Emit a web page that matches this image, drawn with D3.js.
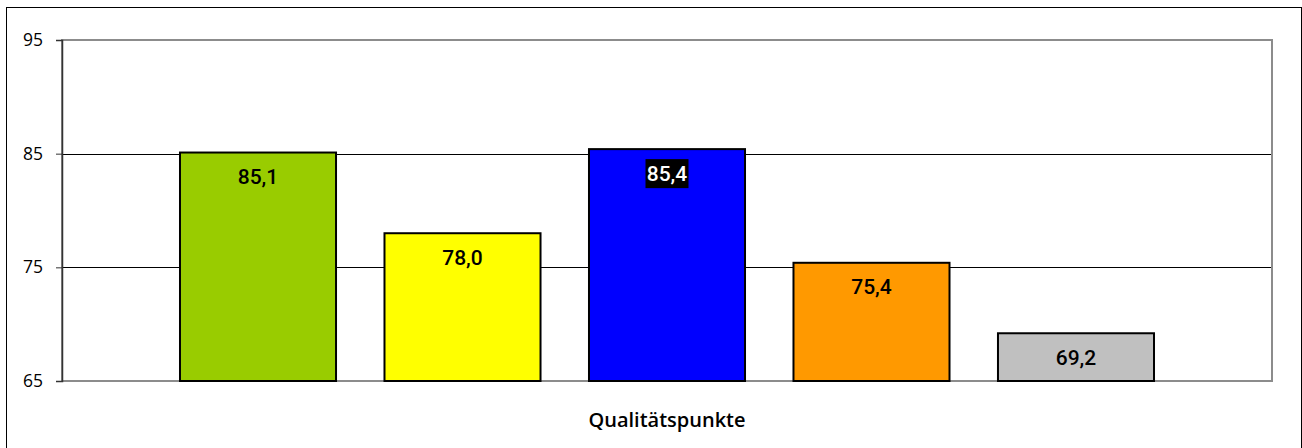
<!DOCTYPE html>
<html><head><meta charset="utf-8">
<script src="https://cdn.jsdelivr.net/npm/d3@7"></script>
<style>body{margin:0;background:#fff}svg{display:block}</style>
</head><body>
<svg id="c" width="1302" height="448"></svg>
<script>
const category = ["Qualitätspunkte"];
const series = ["S1","S2","S3","S4","S5"];
const values = [85.1, 78.0, 85.4, 75.4, 69.2];
const colors = ["#99CC00","#FFFF00","#0000FF","#FF9900","#C0C0C0"];
const yTicks = [65, 75, 85, 95];

const svg = d3.select("#c");
const L = 62, R = 1272, T = 40, B = 381;

svg.append("rect").attr("x",6.5).attr("y",7.5).attr("width",1295).attr("height",450)
  .attr("fill","#fff").attr("stroke","#000").attr("stroke-width",1);

const y = d3.scaleLinear().domain([65,95]).range([B,T]);
const x0 = d3.scaleBand().domain(category).range([L,R]).paddingInner(0).paddingOuter(0.0917);
const x1 = d3.scaleBand().domain(series).range([0,x0.bandwidth()]).paddingInner(0.237).paddingOuter(0.1185);

// gridlines
svg.append("g").selectAll("line").data(yTicks.slice(1,-1)).join("line")
  .attr("x1",L).attr("x2",R).attr("y1",d=>Math.round(y(d))+0.5).attr("y2",d=>Math.round(y(d))+0.5)
  .attr("stroke","#000").attr("stroke-width",1);

// plot border
svg.append("rect").attr("x",L).attr("y",T).attr("width",R-L).attr("height",B-T)
  .attr("fill","none").attr("stroke","#8c8c8c").attr("stroke-width",2);

// y axis
const ya = svg.append("g").attr("transform",`translate(${L},0)`)
  .call(d3.axisLeft(y).tickValues(yTicks).tickSize(6).tickPadding(13).tickFormat(d3.format("d")));
ya.select(".domain").attr("stroke","#333").attr("stroke-width",1.5);
ya.selectAll(".tick line").attr("stroke","#333");
ya.selectAll("text").attr("font-family","'Open Sans', sans-serif").attr("font-size",17.5).attr("fill","#000");

// bars
const g = svg.append("g").attr("transform",`translate(${x0(category[0])},0)`);
g.selectAll("rect").data(values).join("rect")
  .attr("x",(d,i)=>x1(series[i])).attr("width",x1.bandwidth())
  .attr("y",d=>y(d)).attr("height",d=>B-y(d))
  .attr("fill",(d,i)=>colors[i]).attr("stroke","#000").attr("stroke-width",2);

// labels
const fmt = d => d3.format(".1f")(d).replace(".",",");
values.forEach((d,i)=>{
  const cx = x1(series[i]) + x1.bandwidth()/2;
  const ty = y(d) + 31.5;
  if (i===2){
    g.append("rect").attr("x",cx-21.5).attr("y",y(d)+10).attr("width",43).attr("height",29).attr("fill","#000");
  }
  g.append("text").attr("x",cx).attr("y",ty).attr("text-anchor","middle")
    .attr("font-family","Roboto, sans-serif").attr("font-weight",500).attr("font-size",21)
    .attr("fill", i===2 ? "#fff" : "#000").text(fmt(d));
});

// x category label
svg.append("text").attr("x",x0(category[0])+x0.bandwidth()/2).attr("y",427).attr("text-anchor","middle")
  .attr("font-family","'Open Sans', sans-serif").attr("font-weight",600).attr("font-size",20).attr("fill","#000").text(category[0]);
</script>
</body></html>
